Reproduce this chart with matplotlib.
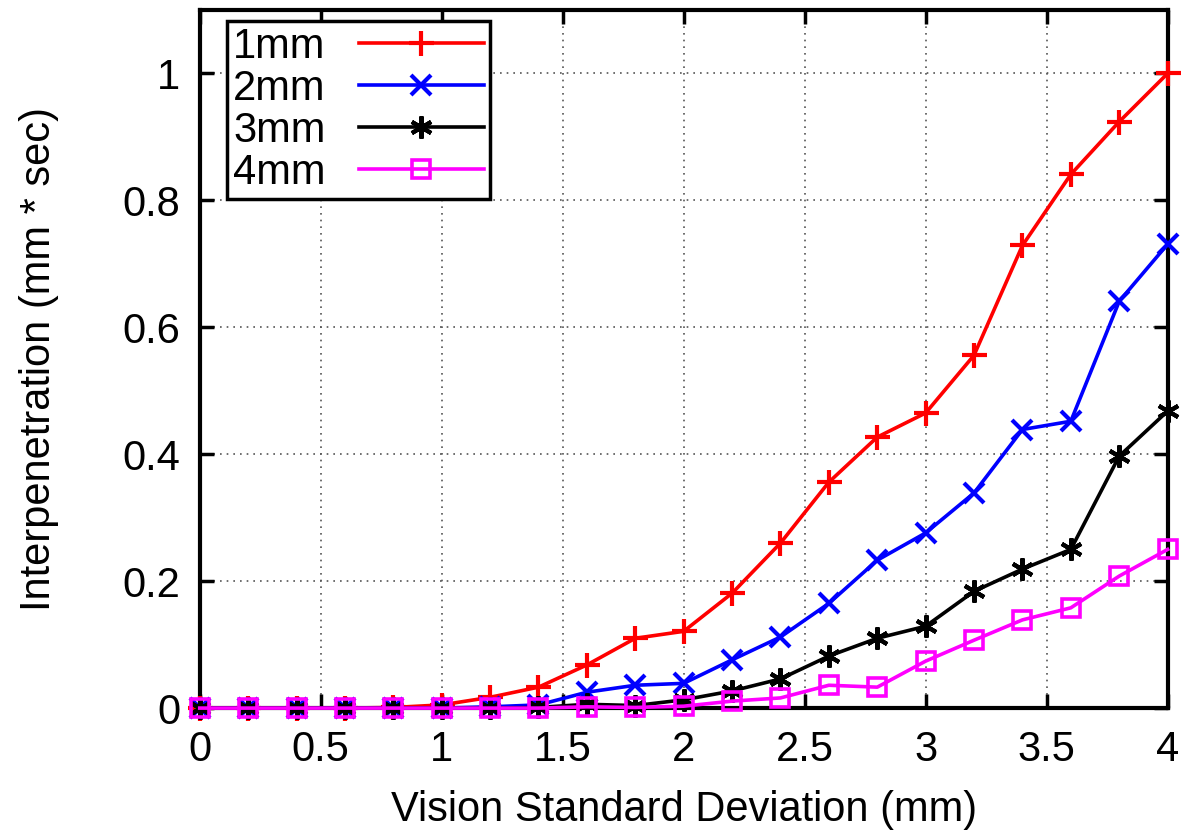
import numpy as np
import matplotlib
matplotlib.use("Agg")
import matplotlib.pyplot as plt

plt.rcParams['font.family'] = ['Liberation Sans', 'DejaVu Sans']

# data
x = [0, 0.2, 0.4, 0.6, 0.8, 1.0, 1.2, 1.4, 1.6, 1.8, 2.0,
     2.2, 2.4, 2.6, 2.8, 3.0, 3.2, 3.4, 3.6, 3.8, 4.0]
y_1mm = [0, 0, 0, 0, 0.001, 0.005, 0.017, 0.033, 0.068, 0.11, 0.121,
         0.181, 0.26, 0.356, 0.427, 0.465, 0.556, 0.729, 0.841, 0.924, 1.0]
y_2mm = [0, 0, 0, 0, 0, 0, 0.002, 0.005, 0.025, 0.036, 0.039,
         0.076, 0.112, 0.165, 0.233, 0.276, 0.339, 0.439, 0.452, 0.641, 0.731]
y_3mm = [0, 0, 0, 0, 0, 0, 0, 0.001, 0.006, 0.004, 0.013,
         0.027, 0.046, 0.082, 0.11, 0.129, 0.184, 0.219, 0.25, 0.397, 0.468]
y_4mm = [0, 0, 0, 0, 0, 0, 0, 0, 0.002, 0.001, 0.003,
         0.011, 0.016, 0.036, 0.033, 0.074, 0.107, 0.139, 0.158, 0.208, 0.25]
labels = ['1mm', '2mm', '3mm', '4mm']

fig = plt.figure(figsize=(11.89, 8.36), dpi=100)
ax = fig.add_axes([0.168, 0.153, 0.814, 0.835])

lw = 2.6
ax.plot(x, y_1mm, color='#ff0000', lw=lw, marker='+', ms=18, mew=3,
        clip_on=False, zorder=3, label=labels[0])
ax.plot(x, y_2mm, color='#0000ff', lw=lw, marker='x', ms=15, mew=3,
        clip_on=False, zorder=3, label=labels[1])
ax.plot(x, y_3mm, color='black', lw=lw, marker=(6, 2, 0), ms=16, mew=3,
        clip_on=False, zorder=3, label=labels[2])
ax.plot(x, y_4mm, color='#ff00ff', lw=lw, marker='s', ms=13, mew=2.6,
        fillstyle='none', clip_on=False, zorder=3, label=labels[3])

ax.set_xlim(0, 4)
ax.set_ylim(0, 1.1)
ax.set_xticks(np.arange(0, 4.01, 0.5))
ax.set_xticklabels(['0', '0.5', '1', '1.5', '2', '2.5', '3', '3.5', '4'])
ax.set_yticks([0, 0.2, 0.4, 0.6, 0.8, 1.0])
ax.set_yticklabels(['0', '0.2', '0.4', '0.6', '0.8', '1'])

ax.grid(True, color='#555555', linestyle=(0, (1, 3)), lw=1.2)
ax.tick_params(direction='in', length=10, width=2.5, labelsize=30,
               top=True, right=True)
ax.tick_params(axis='x', pad=16)
ax.tick_params(axis='y', pad=14)
for s in ax.spines.values():
    s.set_linewidth(3)
    s.set_zorder(2.5)

ax.set_xlabel('Vision Standard Deviation (mm)', fontsize=30, labelpad=14)
ax.set_ylabel('Interpenetration (mm * sec)', fontsize=30, labelpad=46)

leg = ax.legend(loc='upper left', markerfirst=False, fontsize=30,
                handlelength=3.0, labelspacing=0.05, borderpad=0.15,
                handletextpad=0.8, borderaxespad=0, fancybox=False, framealpha=1,
                edgecolor='black', bbox_to_anchor=(0.028, 0.985))
leg.get_frame().set_linewidth(2.5)
leg.set_zorder(5)

fig.savefig('out.png', dpi=100)
